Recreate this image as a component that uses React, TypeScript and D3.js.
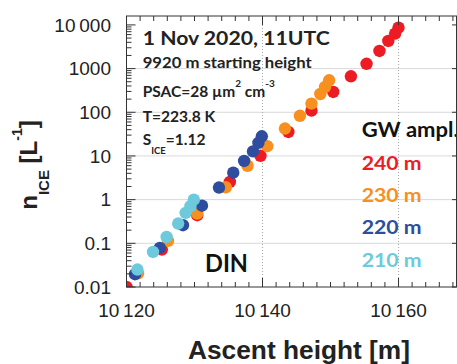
import React from "react";
import * as d3 from "d3";

const red240X = [10120.0, 10125.2, 10130.4, 10135.2, 10139.7, 10143.8, 10147.2, 10150.4, 10153.0, 10155.3, 10157.2, 10158.5, 10159.5, 10160.0];
const red240Y = [0.01, 0.072, 0.44, 2.54, 10.1, 35.4, 109, 292, 667, 1288, 2530, 4290, 6320, 8670];
const orange230X = [10121.7, 10126.1, 10130.4, 10134.6, 10137.8, 10140.7, 10143.3, 10145.5, 10147.2, 10148.5, 10149.2, 10149.8];
const orange230Y = [0.0204, 0.1135, 0.48, 1.92, 5.97, 16.7, 42.4, 83.2, 158, 262, 379, 540];
const blue220X = [10121.25, 10124.9, 10128.3, 10131.1, 10133.6, 10135.7, 10137.3, 10138.6, 10139.4, 10139.9];
const blue220Y = [0.0196, 0.0785, 0.26, 0.725, 1.89, 4.13, 7.69, 12.7, 20, 28.2];
const cyan210X = [10121.6, 10123.9, 10125.9, 10127.6, 10128.7, 10129.4, 10129.9];
const cyan210Y = [0.0251, 0.0635, 0.14, 0.284, 0.497, 0.706, 1.0];

const seriesNames = ["240 m", "230 m", "220 m", "210 m"];
const seriesColors = ["#ed1c24", "#f7901e", "#2e4d9f", "#6dcadc"];
const xMajorTicks = [10120, 10140, 10160];
const xTickLabels = ["10\u2009120", "10\u2009140", "10\u2009160"];
const yMajorTicks = [0.01, 0.1, 1, 10, 100, 1000, 10000];
const yTickLabels = ["0.01", "0.1", "1", "10", "100", "1000", "10\u2009000"];

const W = 457, H = 364;
const L = 126.5, R = 457, T = 16, B = 287;

export default function App() {
  const x = d3.scaleLinear().domain([10120, 10168.6]).range([L, R]);
  const y = d3.scaleLog().domain([0.01, 16000]).range([B, T]);

  const series = [
    { xs: red240X, ys: red240Y },
    { xs: orange230X, ys: orange230Y },
    { xs: blue220X, ys: blue220Y },
    { xs: cyan210X, ys: cyan210Y },
  ];

  const xMinor = d3.range(10120, 10169, 2);
  const yMinor: number[] = [];
  for (let e = -2; e <= 4; e++) {
    for (let m = 1; m <= 9; m++) {
      const v = m * Math.pow(10, e);
      if (v <= 16000) yMinor.push(v);
    }
  }
  const axisColor = "#333";
  const tickFont = "'Liberation Sans', Arial, sans-serif";
  const annFont = "Lato, 'Open Sans', sans-serif";

  return (
    <svg width={W} height={H} style={{ position: "absolute", left: 0, top: 0, background: "#fff" }}>
      <defs>
        <clipPath id="plotClip">
          <rect x={L} y={T} width={R - L} height={B - T} />
        </clipPath>
      </defs>
      <rect x={0} y={0} width={W} height={H} fill="#fff" />
      {yMajorTicks.filter((v) => v > 0.01 && v < 10000).map((v) => (
        <line key={"hg" + v} x1={L} x2={R} y1={y(v)} y2={y(v)} stroke="#d9d9d9" strokeWidth={1} />
      ))}
      {[10140, 10160].map((v) => (
        <line key={"vg" + v} x1={x(v)} x2={x(v)} y1={T} y2={B} stroke="#a8a8a8" strokeWidth={1} strokeDasharray="1,2" />
      ))}
      <g fontFamily={annFont} fontWeight="bold" fill="#222">
        <text x={142.7} y={45.3} fontSize={19.5} textLength={187} lengthAdjust="spacingAndGlyphs">1 Nov 2020, 11UTC</text>
        <text x={142.7} y={67.7} fontSize={15.5} textLength={169} lengthAdjust="spacingAndGlyphs">9920 m starting height</text>
        <text x={142.7} y={96.7} fontSize={15.5}>
          <tspan>PSAC=28 µm</tspan>
          <tspan dy={-10} fontSize={10}>2</tspan>
          <tspan dy={10}> cm</tspan>
          <tspan dy={-10} fontSize={10}>-3</tspan>
        </text>
        <text x={142.7} y={121.7} fontSize={15.5} textLength={72.6} lengthAdjust="spacingAndGlyphs">T=223.8 K</text>
        <text x={142.7} y={145} fontSize={15.5}>
          <tspan>S</tspan>
          <tspan dy={8.5} fontSize={9.5}>ICE</tspan>
          <tspan dy={-8.5}>=1.12</tspan>
        </text>
        <text x={205} y={271.7} fontSize={25.5} fill="#111" textLength={43} lengthAdjust="spacingAndGlyphs">DIN</text>
        <text x={361.7} y={136.7} fontSize={20.5} fill="#111" textLength={97} lengthAdjust="spacingAndGlyphs">GW ampl.</text>
        {seriesNames.map((n, i) => (
          <text key={n} x={361.7} y={170 + i * 32.2} fontSize={19} fill={seriesColors[i]} textLength={60} lengthAdjust="spacingAndGlyphs">{n}</text>
        ))}
      </g>
      <g clipPath="url(#plotClip)">
        {series.map((s, si) =>
          s.xs.map((xv, i) => (
            <circle key={si + "-" + i} cx={x(xv)} cy={y(s.ys[i])} r={6.2} fill={seriesColors[si]} />
          ))
        )}
      </g>
      <rect x={L} y={T} width={R - L - 0.5} height={B - T} fill="none" stroke={axisColor} strokeWidth={1} />
      {xMinor.map((v) => {
        const major = xMajorTicks.includes(v);
        const len = major ? 9 : 5;
        return (
          <g key={"xt" + v}>
            <line x1={x(v)} x2={x(v)} y1={B} y2={B - len} stroke={axisColor} />
            <line x1={x(v)} x2={x(v)} y1={T} y2={T + len} stroke={axisColor} />
          </g>
        );
      })}
      {yMinor.map((v) => {
        const major = yMajorTicks.some((m) => Math.abs(m - v) / m < 1e-6);
        const len = major ? 9 : 5;
        return (
          <g key={"yt" + v}>
            <line x1={L} x2={L + len} y1={y(v)} y2={y(v)} stroke={axisColor} />
            {major && <line x1={R - 0.5} x2={R - 5} y1={y(v)} y2={y(v)} stroke={axisColor} />}
          </g>
        );
      })}
      <g fontFamily={tickFont} fontSize={19} fill="#222">
        {xMajorTicks.map((v, i) => (
          <text key={"xl" + v} x={x(v)} y={316.7} textAnchor="middle">{xTickLabels[i]}</text>
        ))}
        {yMajorTicks.map((v, i) => (
          <text key={"yl" + v} x={111} y={y(v) + 6.7} textAnchor="end">{yTickLabels[i]}</text>
        ))}
      </g>
      <text x={299} y={359} fontFamily={tickFont} fontWeight="bold" fontSize={25} fill="#222" textAnchor="middle" textLength={222} lengthAdjust="spacingAndGlyphs">Ascent height [m]</text>
      <text transform="translate(37,165) rotate(-90)" fontFamily={tickFont} fontWeight="bold" fontSize={24} fill="#222" textAnchor="middle">
        <tspan>n</tspan>
        <tspan dy={12} fontSize={15}>ICE</tspan>
        <tspan dy={-12}> [L</tspan>
        <tspan dy={-15} fontSize={14}>-1</tspan>
        <tspan dy={15}>]</tspan>
      </text>
    </svg>
  );
}
